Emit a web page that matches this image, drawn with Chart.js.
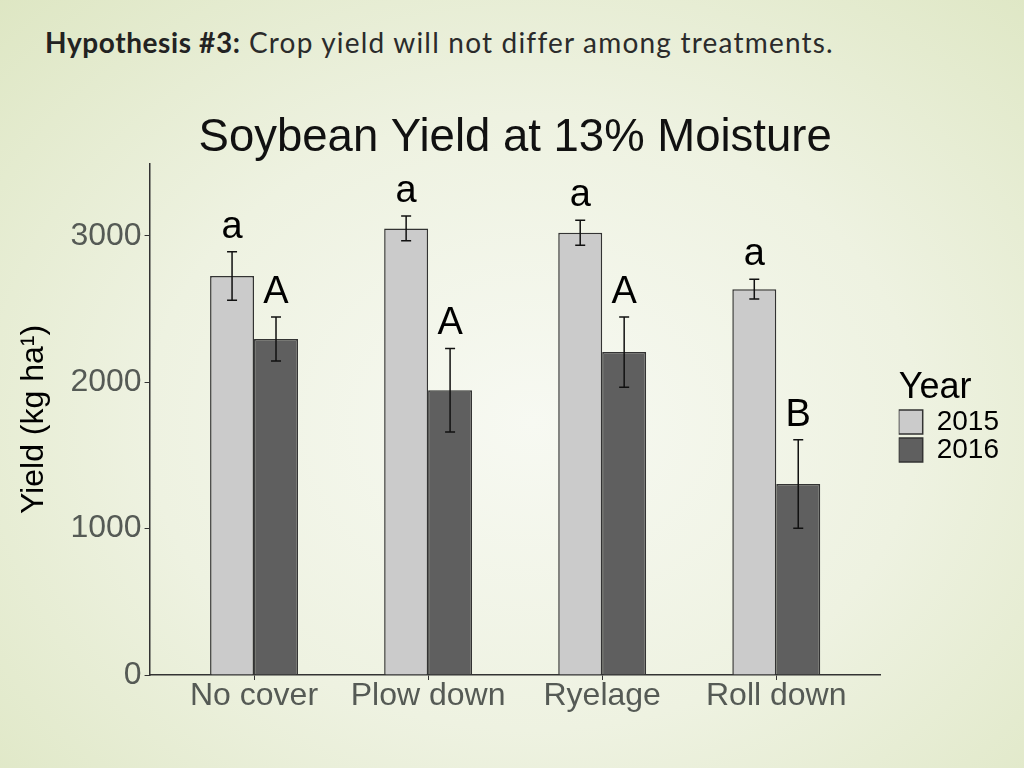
<!DOCTYPE html>
<html>
<head>
<meta charset="utf-8">
<script src="https://cdn.jsdelivr.net/npm/chart.js@4.4.1/dist/chart.umd.min.js"></script>
<style>
  body {
    margin: 0;
    width: 1024px;
    height: 768px;
    overflow: hidden;
    background: radial-gradient(ellipse 75% 80% at 52% 55%, #f7f9f2 0%, #eef2e1 50%, #dde6c2 100%);
  }
  #heading {
    position: absolute;
    left: 45px;
    top: 25px;
    font-family: Lato, "Open Sans", sans-serif;
    font-size: 28px;
    letter-spacing: 1.2px;
    color: #2b2b2b;
    white-space: nowrap;
  }
  #heading b { color: #222; letter-spacing: 0.6px; }
  #wrap { position: absolute; left: 0; top: 0; width: 1024px; height: 768px; }
</style>
</head>
<body>
<div id="heading"><b>Hypothesis #3:</b> Crop yield will not differ among treatments.</div>
<div id="wrap"><canvas id="yieldChart" width="1024" height="768"></canvas></div>
<script>
// values (kg/ha), error = half bar length
const categories = ['No cover', 'Plow down', 'Ryelage', 'Roll down'];
const years = ['2015', '2016'];
const yield2015 = [2725, 3050, 3020, 2635];
const yield2016 = [2295, 1945, 2205, 1305];
const err2015 = [165, 85, 85, 68];
const err2016 = [150, 285, 240, 302];
const letters2015 = ['a', 'a', 'a', 'a'];
const letters2016 = ['A', 'A', 'A', 'B'];
const yTicks = [0, 1000, 2000, 3000];

const FONT = '"Liberation Sans", Arial, sans-serif';
const errors = [err2015, err2016];
const letters = [letters2015, letters2016];

// error bars + significance letters on top of the bars
const errorBarPlugin = {
  id: 'errorBars',
  afterDatasetsDraw(chart) {
    const ctx = chart.ctx;
    const yScale = chart.scales.y;
    ctx.save();
    ctx.strokeStyle = '#111';
    ctx.lineWidth = 1.5;
    chart.data.datasets.forEach((ds, i) => {
      const meta = chart.getDatasetMeta(i);
      meta.data.forEach((bar, j) => {
        const v = ds.data[j].y;
        const e = errors[i][j];
        const yHi = yScale.getPixelForValue(v + e);
        const yLo = yScale.getPixelForValue(v - e);
        ctx.beginPath();
        ctx.moveTo(bar.x, yHi); ctx.lineTo(bar.x, yLo);
        ctx.moveTo(bar.x - 5, yHi); ctx.lineTo(bar.x + 5, yHi);
        ctx.moveTo(bar.x - 5, yLo); ctx.lineTo(bar.x + 5, yLo);
        ctx.stroke();
        ctx.fillStyle = '#000';
        ctx.font = '38px ' + FONT;
        ctx.textAlign = 'center';
        ctx.textBaseline = 'alphabetic';
        ctx.fillText(letters[i][j], bar.x, yHi - 14);
      });
    });
    ctx.restore();
  }
};

// nudge legend a bit right of the plot, like the original
const legendNudge = {
  id: 'legendNudge',
  afterLayout(chart) {
    if (chart.legend) {
      chart.legend.left += 18;
      chart.legend.right += 18;
    }
  }
};

const ctx = document.getElementById('yieldChart').getContext('2d');
new Chart(ctx, {
  type: 'bar',
  data: {
    datasets: [
      {
        label: years[0],
        data: yield2015.map((v, i) => ({ x: i + 1, y: v })),
        backgroundColor: '#cbcbcb',
        borderColor: '#333',
        borderWidth: 1.5
      },
      {
        label: years[1],
        data: yield2016.map((v, i) => ({ x: i + 1, y: v })),
        backgroundColor: '#5f5f5f',
        borderColor: '#333',
        borderWidth: 1.5
      }
    ]
  },
  options: {
    responsive: false,
    animation: false,
    devicePixelRatio: 1,
    categoryPercentage: 0.505,
    barPercentage: 1,
    layout: { padding: { top: 100, bottom: 56, left: 15, right: 33 } },
    plugins: {
      title: {
        display: true,
        fullSize: false,
        text: 'Soybean Yield at 13% Moisture',
        color: '#111',
        font: { family: FONT, size: 45.5, weight: 'normal', lineHeight: 1.12 },
        padding: { top: 13, bottom: 0 }
      },
      legend: {
        position: 'right',
        align: 'center',
        fullSize: false,
        title: {
          display: true,
          text: 'Year',
          position: 'start',
          color: '#000',
          font: { family: FONT, size: 36 },
          padding: -5
        },
        labels: {
          boxWidth: 24,
          boxHeight: 24,
          padding: 0,
          color: '#000',
          font: { family: FONT, size: 28 }
        }
      },
      tooltip: { enabled: false }
    },
    scales: {
      x: {
        type: 'linear',
        min: 0.4,
        max: 4.6,
        offset: false,
        afterBuildTicks: axis => { axis.ticks = categories.map((_, i) => ({ value: i + 1 })); },
        ticks: {
          callback: v => categories[v - 1],
          color: '#555a55',
          padding: -4,
          font: { family: FONT, size: 32, lineHeight: 1.25 },
          maxRotation: 0,
          autoSkip: false
        },
        grid: { display: true, offset: false, drawOnChartArea: false, drawTicks: true, tickLength: 5, color: '#333' },
        border: { display: true, color: '#333', width: 1.5 }
      },
      y: {
        min: 0,
        max: 3490,
        afterBuildTicks: axis => { axis.ticks = yTicks.map(v => ({ value: v })); },
        ticks: {
          callback: v => String(v),
          color: '#555a55',
          padding: 3,
          font: { family: FONT, size: 32 }
        },
        grid: { display: true, drawOnChartArea: false, drawTicks: true, tickLength: 5, color: '#333' },
        border: { display: true, color: '#333', width: 1.5 },
        title: {
          display: true,
          text: 'Yield (kg ha¹)',
          color: '#000',
          font: { family: FONT, size: 32 },
          padding: { top: 0, bottom: 14 }
        }
      }
    }
  },
  plugins: [errorBarPlugin, legendNudge]
});
</script>
</body>
</html>
